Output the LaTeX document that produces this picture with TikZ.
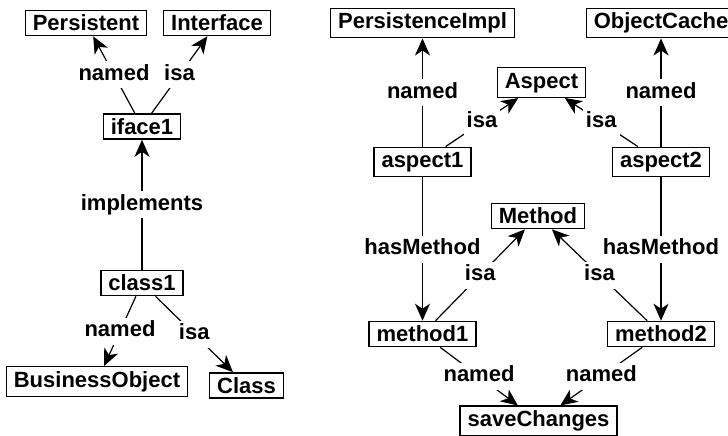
\documentclass[tikz,border=0pt]{standalone}
\usepackage{fontspec}
\setmainfont{Liberation Sans}
\usepackage{tikz}
\usetikzlibrary{arrows.meta,positioning}

\tikzset{
  obj/.style={draw,line width=1.4pt,rectangle,inner xsep=7.5pt,inner ysep=4.5pt,
    text height=16pt,font=\bfseries\fontsize{22}{26}\selectfont},
  rel/.style={line width=1.2pt,-{Stealth[length=17pt,width=15pt,inset=5pt]}},
  lbl/.style={fill=white,inner sep=3pt,text height=16pt,text depth=5pt,
    font=\bfseries\fontsize{22}{26}\selectfont}
}

\begin{document}
\begin{tikzpicture}[x=1pt,y=-1pt]
\useasboundingbox (0,0) rectangle (728,436);
% left graph
\node[obj] (Persistent) at (86,23) {Persistent};
\node[obj] (Interface) at (217,23) {Interface};
\node[obj] (iface1) at (142,126.5) {iface1};
\node[obj] (class1) at (142,283) {class1};
\node[obj] (BusinessObject) at (97,381.5) {BusinessObject};
\node[obj] (Class) at (246.5,385.5) {Class};
% right graph
\node[obj] (PersistenceImpl) at (422.5,23) {PersistenceImpl};
\node[obj] (ObjectCache) at (661,23) {ObjectCache};
\node[obj] (Aspect) at (541.5,82.5) {Aspect};
\node[obj] (aspect1) at (422.5,162) {aspect1};
\node[obj] (aspect2) at (661,162) {aspect2};
\node[obj] (Method) at (538,216) {Method};
\node[obj] (method1) at (422.5,334) {method1};
\node[obj] (method2) at (661,334) {method2};
\node[obj] (saveChanges) at (538.5,421) {saveChanges};

\draw[rel] (iface1) -- node[lbl] {named} (Persistent);
\draw[rel] (iface1) -- node[lbl] {isa} (Interface);
\draw[rel] (class1) -- node[lbl] {implements} (iface1);
\draw[rel] (class1) -- node[lbl] {named} (BusinessObject);
\draw[rel] (class1) -- node[lbl] {isa} (Class);

\draw[rel] (aspect1) -- node[lbl] {named} (PersistenceImpl);
\draw[rel] (aspect1) -- node[lbl] {isa} (Aspect);
\draw[rel] (aspect2) -- node[lbl] {named} (ObjectCache);
\draw[rel] (aspect2) -- node[lbl] {isa} (Aspect);
\draw[rel] (aspect1) -- node[lbl] {hasMethod} (method1);
\draw[rel] (aspect2) -- node[lbl] {hasMethod} (method2);
\draw[rel] (method1) -- node[lbl] {isa} (Method);
\draw[rel] (method2) -- node[lbl] {isa} (Method);
\draw[rel] (method1) -- node[lbl] {named} (saveChanges);
\draw[rel] (method2) -- node[lbl] {named} (saveChanges);
\end{tikzpicture}
\end{document}
